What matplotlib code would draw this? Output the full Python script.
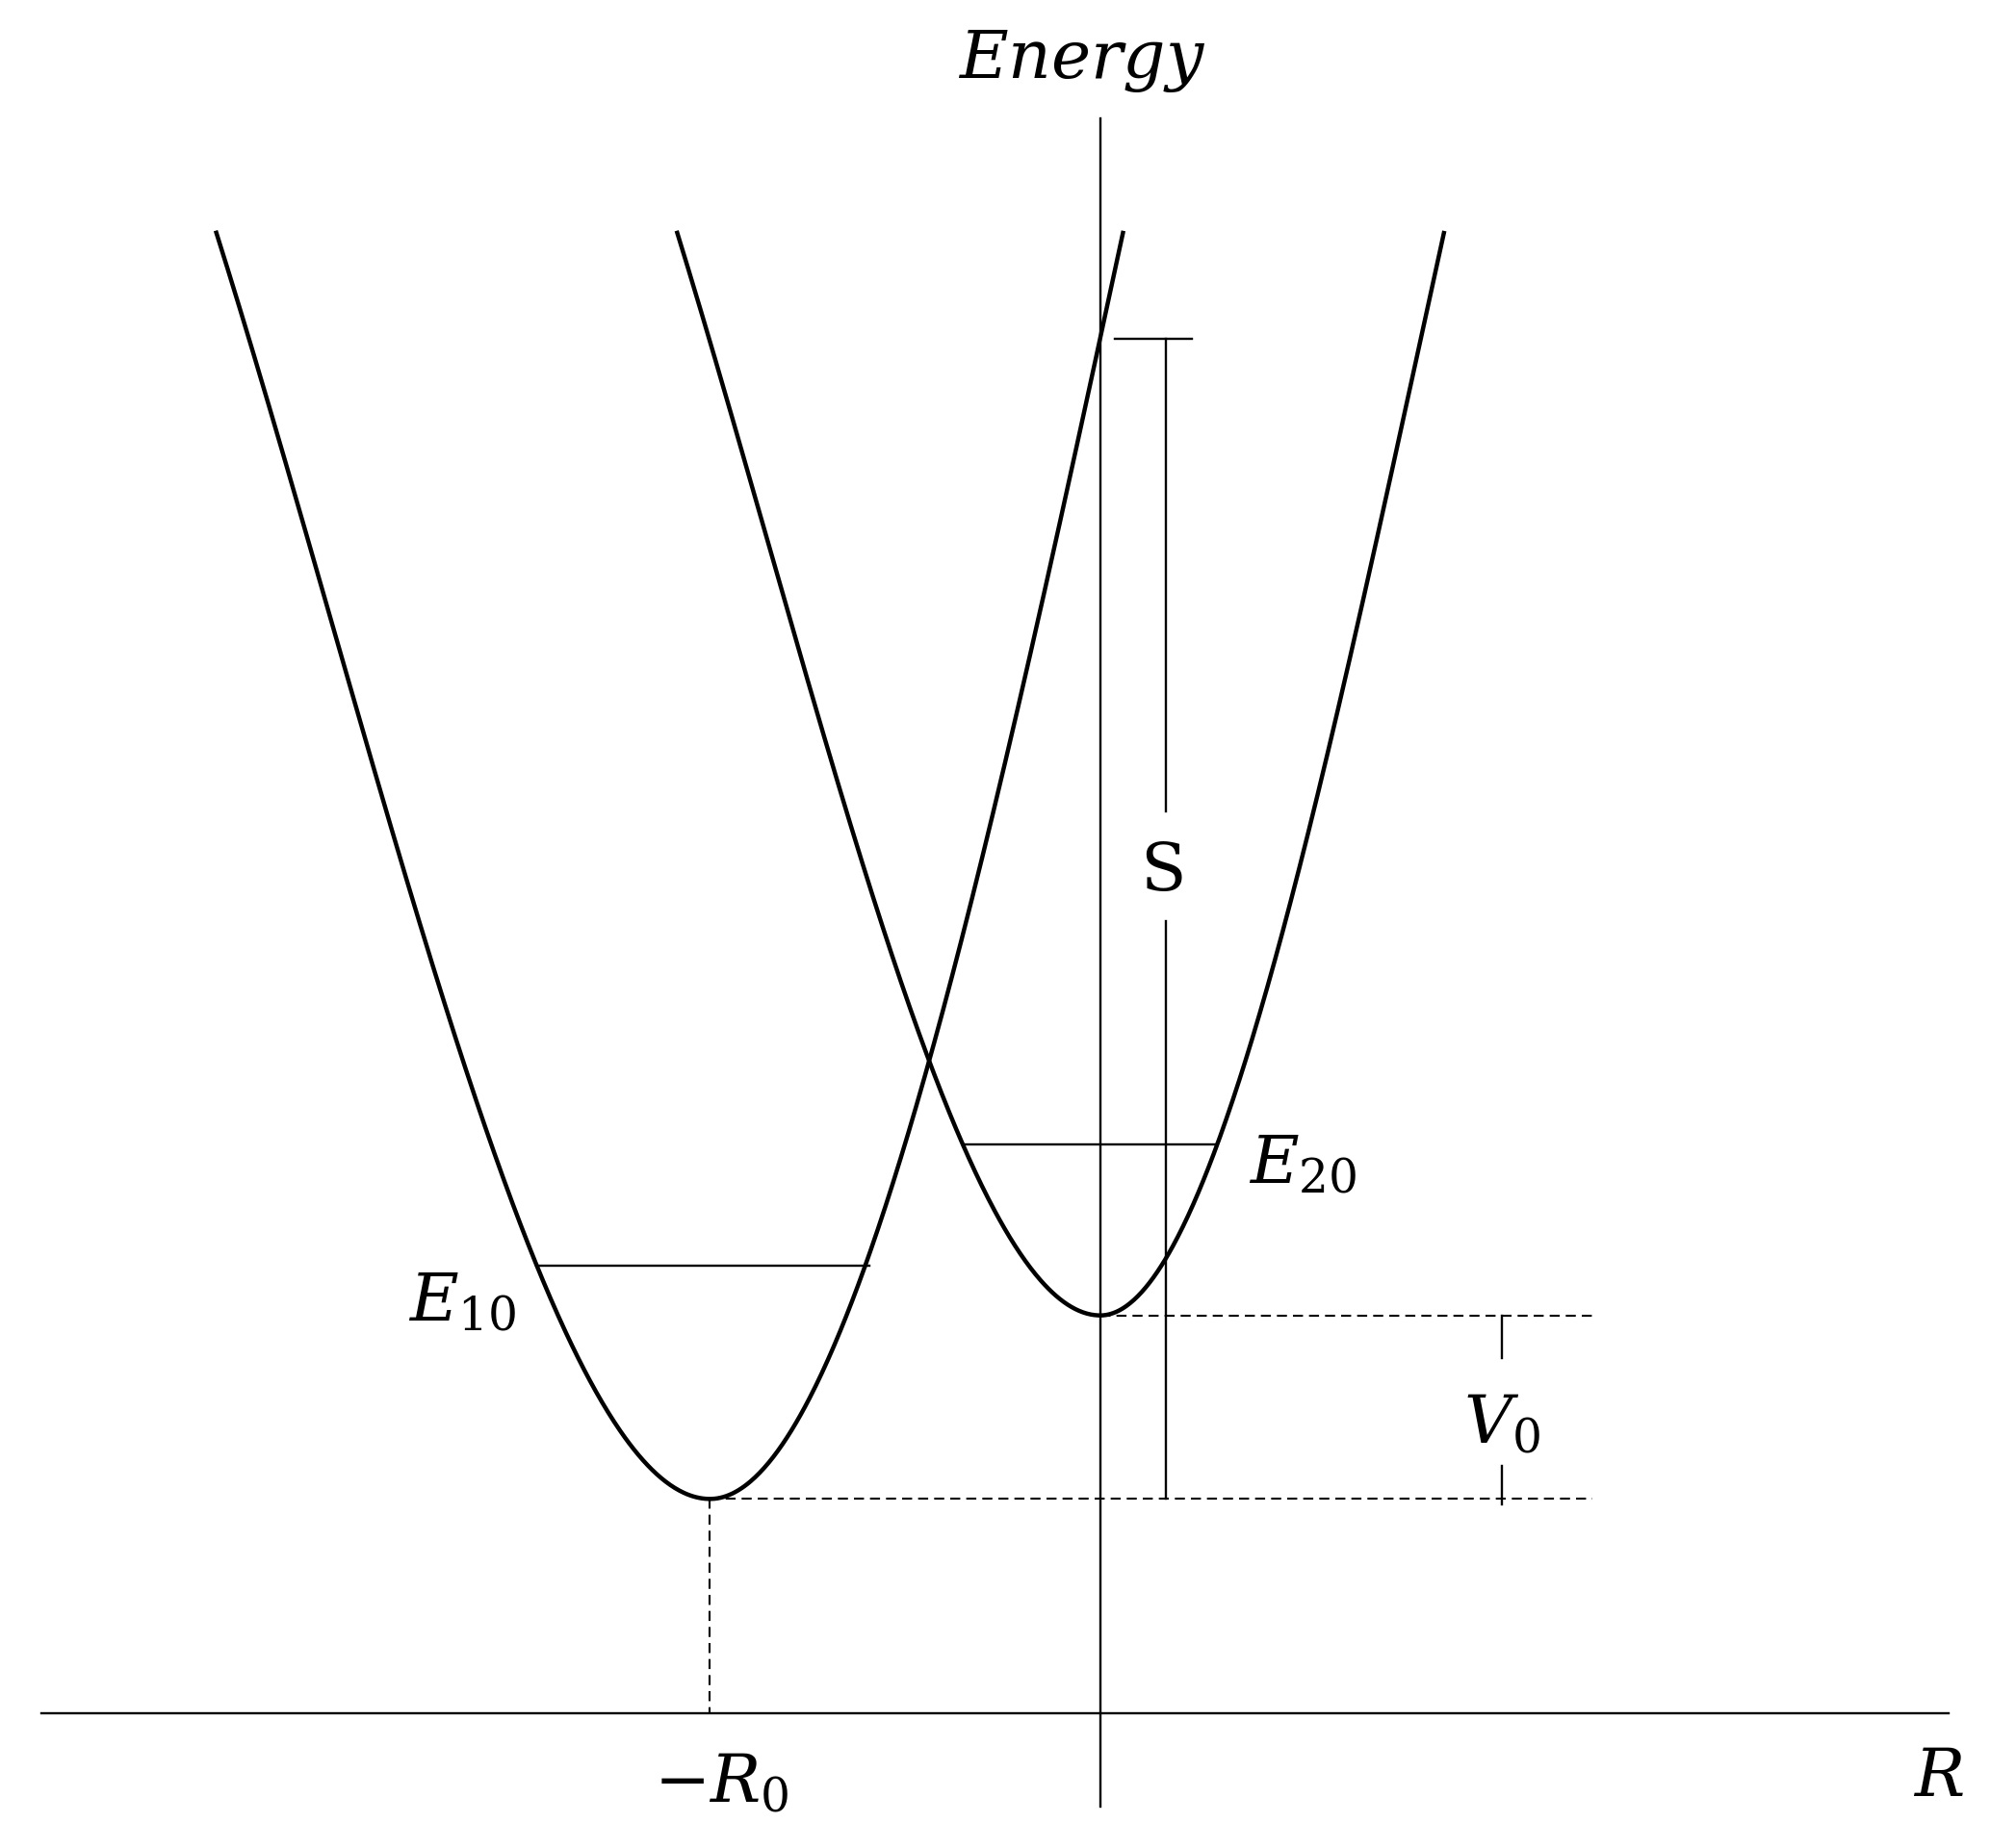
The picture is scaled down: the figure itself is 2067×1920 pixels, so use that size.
import numpy as np
import matplotlib
matplotlib.use("Agg")
import matplotlib.pyplot as plt

plt.rcParams['mathtext.fontset'] = 'dejavuserif'

W, H = 1550, 1440
# curve minima (x, y in image-pixel units, y measured downward)
curve1_min = (553, 1168)
curve2_min = (857, 1025)
# branch shape coefficients: height = a*d^2 + b*|d|^3
curve1_left = (0.01178, -1.328e-5); curve1_right = (0.01418, -1.444e-5)
curve2_left = (0.01347, -1.73e-5); curve2_right = (0.01827, -2.427e-5)
curve1_range = (168, 875)
curve2_range = (527, 1125)
E10_level, E10_span = 986, (418, 677)
E20_level, E20_span = 892, (750, 948)

fig = plt.figure(figsize=(20.67, 19.2), dpi=100)
ax = fig.add_axes([0, 0, 1, 1])
ax.set_xlim(0, W); ax.set_ylim(H, 0); ax.axis('off')

def curve(mn, left, right, rng):
    x = np.linspace(rng[0], rng[1], 600)
    d = x - mn[0]
    a = np.where(d < 0, left[0], right[0]); b = np.where(d < 0, left[1], right[1])
    h = a*d**2 + b*np.abs(d)**3
    return x, mn[1] - h

for mn, l, r, rg in [(curve1_min, curve1_left, curve1_right, curve1_range),
                     (curve2_min, curve2_left, curve2_right, curve2_range)]:
    x, y = curve(mn, l, r, rg)
    ax.plot(x, y, color='black', lw=3.2, solid_capstyle='butt')

thin = dict(color='black', lw=1.7)
ax.plot([32, 1518], [1335, 1335], **thin)
ax.plot([857, 857], [92, 1408], **thin)
ax.plot(E10_span, [E10_level]*2, **thin)
ax.plot(E20_span, [E20_level]*2, **thin)
# S bracket
ax.plot([868, 928], [264, 264], **thin)
ax.plot([908, 908], [264, 632], **thin)
ax.plot([908, 908], [718, 1168], **thin)
# dashed lines
dash = dict(color='black', lw=1.5, ls=(0, (5, 3)))
ax.plot([857, 1240], [1025, 1025], **dash)
ax.plot([553, 1240], [1168, 1168], **dash)
ax.plot([553, 553], [1168, 1335], **dash)
# V0 marker
ax.plot([1170, 1170], [1025, 1058], **thin)
ax.plot([1170, 1170], [1142, 1172], **thin)

fs = 50
ax.text(843, 48, r'$Energy$', fontsize=fs, ha='center', va='center')
ax.text(906, 680, 'S', fontsize=fs, ha='center', va='center', family='DejaVu Serif')
ax.text(360, 1015, r'$E_{10}$', fontsize=fs, ha='center', va='center')
ax.text(1015, 908, r'$E_{20}$', fontsize=fs, ha='center', va='center')
ax.text(1170, 1110, r'$V_0$', fontsize=fs, ha='center', va='center')
ax.text(562, 1390, r'$-R_0$', fontsize=fs, ha='center', va='center')
ax.text(1510, 1385, r'$R$', fontsize=fs, ha='center', va='center')

fig.savefig('out.png', dpi=100)
